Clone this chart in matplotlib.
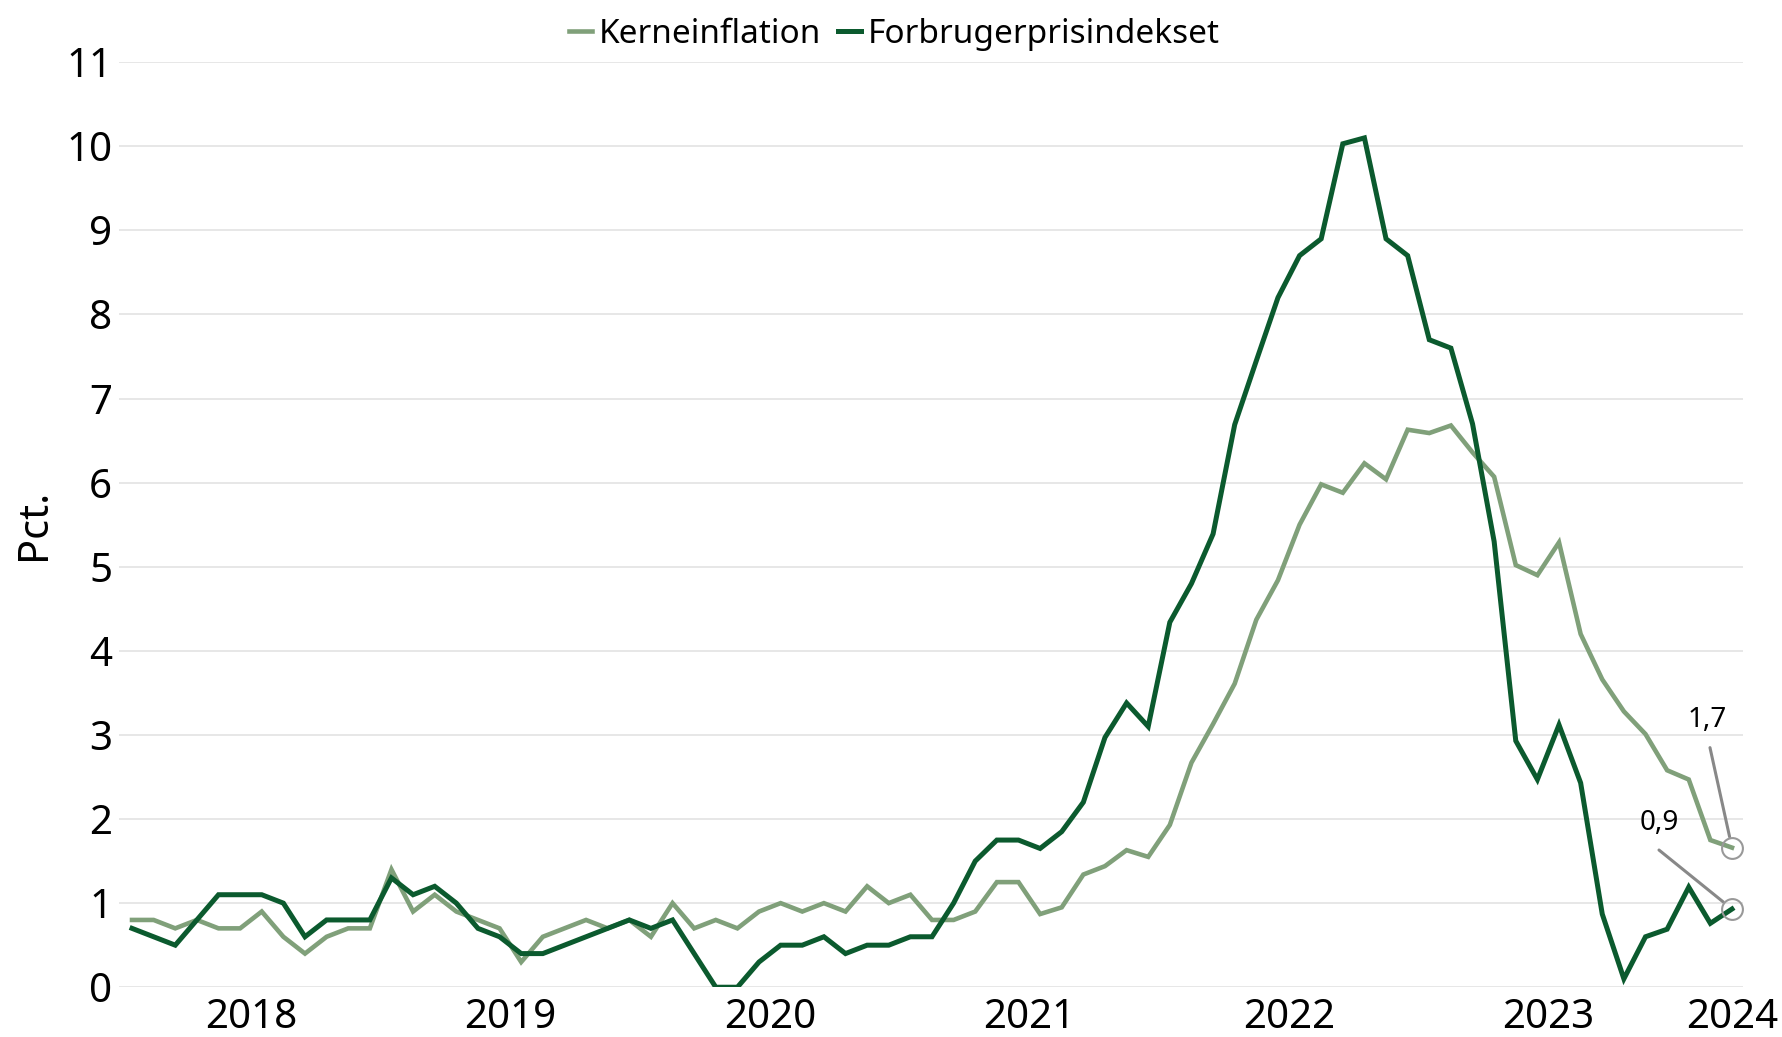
import matplotlib
matplotlib.use("Agg")
import matplotlib.pyplot as plt
import numpy as np

# Monthly data, Jan 2018 - Mar 2024 (pct. year on year)
core = [
    0.8, 0.8, 0.7, 0.8, 0.7, 0.7, 0.9, 0.6, 0.4, 0.6, 0.7, 0.7,      # 2018
    1.4, 0.9, 1.1, 0.9, 0.8, 0.7, 0.3, 0.6, 0.7, 0.8, 0.7, 0.8,      # 2019
    0.6, 1.0, 0.7, 0.8, 0.7, 0.9, 1.0, 0.9, 1.0, 0.9, 1.2, 1.0,      # 2020
    1.1, 0.8, 0.8, 0.9, 1.25, 1.25, 0.87, 0.95, 1.34, 1.44, 1.63, 1.55,  # 2021
    1.93, 2.67, 3.13, 3.61, 4.37, 4.84, 5.5, 5.98, 5.88, 6.23, 6.04, 6.63,  # 2022
    6.59, 6.68, 6.36, 6.07, 5.02, 4.9, 5.29, 4.2, 3.66, 3.28, 3.01, 2.58,  # 2023
    2.47, 1.75, 1.66,                                                # 2024
]
cpi = [
    0.7, 0.6, 0.5, 0.8, 1.1, 1.1, 1.1, 1.0, 0.6, 0.8, 0.8, 0.8,      # 2018
    1.3, 1.1, 1.2, 1.0, 0.7, 0.6, 0.4, 0.4, 0.5, 0.6, 0.7, 0.8,      # 2019
    0.7, 0.8, 0.4, 0.0, 0.0, 0.3, 0.5, 0.5, 0.6, 0.4, 0.5, 0.5,      # 2020
    0.6, 0.6, 1.0, 1.5, 1.75, 1.75, 1.65, 1.85, 2.2, 2.97, 3.38, 3.1,  # 2021
    4.34, 4.8, 5.39, 6.69, 7.45, 8.2, 8.7, 8.9, 10.03, 10.1, 8.9, 8.7,  # 2022
    7.7, 7.6, 6.7, 5.3, 2.93, 2.47, 3.12, 2.43, 0.87, 0.1, 0.6, 0.69,  # 2023
    1.19, 0.76, 0.93,                                                # 2024
]
years = ["2018", "2019", "2020", "2021", "2022", "2023", "2024"]
yticks = list(range(0, 12))

CORE_COLOR = "#80a07a"
CPI_COLOR = "#0b5a2e"

plt.rcParams["font.family"] = ["Noto Sans", "DejaVu Sans"]

fig = plt.figure(figsize=(17.82, 10.37), dpi=100)
ax = fig.add_axes([0.0668, 0.048, 0.9112, 0.892])

x = np.arange(len(cpi))
ax.plot(x, core, color=CORE_COLOR, lw=3.3, label="Kerneinflation", solid_joinstyle="miter")
ax.plot(x, cpi, color=CPI_COLOR, lw=3.6, label="Forbrugerprisindekset", solid_joinstyle="miter")

# Year labels in the middle of each year, last one at the final month
tick_pos = [5.5 + 12 * i for i in range(len(years) - 1)] + [x[-1]]
ax.set_xticks(tick_pos)
ax.set_xticklabels(years, fontsize=29)
ax.set_xlim(-0.6, 74.5)

ax.set_ylim(0, 11)
ax.set_yticks(yticks)
ax.set_yticklabels([str(v) for v in yticks], fontsize=29)
ax.set_ylabel("Pct.", fontsize=30, labelpad=8)

ax.tick_params(axis="both", length=0)
ax.tick_params(axis="x", pad=8)
ax.tick_params(axis="y", pad=5)
ax.grid(axis="y", color="#e3e3e3", lw=1.2)
ax.set_axisbelow(True)
for s in ax.spines.values():
    s.set_visible(False)

# End-point labels: circle, connector line and value text (offsets in pixels)
labels = [(core, (-22, 100), (-25, 128)), (cpi, (-73, 59), (-73, 86))]
for vals, line_off, text_off in labels:
    ax.plot(x[-1], vals[-1], marker="o", ms=15, mfc="none", mec="#999999", mew=1.5, zorder=5)
    ax.annotate("", xy=(x[-1], vals[-1]), xytext=line_off, textcoords="offset pixels",
                arrowprops=dict(arrowstyle="-", color="#888888", lw=2.2,
                                shrinkA=0, shrinkB=8))
    ax.annotate(f"{vals[-1]:.1f}".replace(".", ","), xy=(x[-1], vals[-1]),
                xytext=text_off, textcoords="offset pixels", ha="center", va="center",
                fontsize=20)

fig.legend(loc="upper center", bbox_to_anchor=(0.502, 1.012), ncol=2, frameon=False,
           fontsize=24, handlelength=0.7, handletextpad=0.2, columnspacing=0.5)

plt.savefig("out.png", dpi=100)
